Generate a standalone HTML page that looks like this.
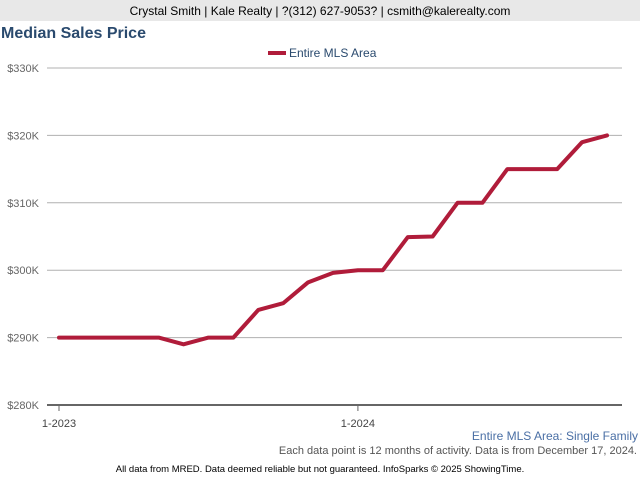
<!DOCTYPE html>
<html><head><meta charset="utf-8"><style>
body{margin:0;width:640px;height:480px;background:#fff;font-family:"Liberation Sans",sans-serif;overflow:hidden;position:relative}
.hdr{position:absolute;left:0;top:0;width:640px;height:21px;background:#e8e8e8;text-align:center;font-size:12px;line-height:22px;color:#000}
.title{position:absolute;left:1px;top:25px;font-size:16px;font-weight:bold;color:#2a4a6e}
.t{position:absolute;font-size:11px}
</style></head><body>
<div class="hdr">Crystal Smith | Kale Realty | ?(312) 627-9053? | csmith@kalerealty.com</div>
<div class="title">Median Sales Price</div>
<svg id="c" width="640" height="480" style="position:absolute;left:0;top:0"></svg>
<div class="t" style="right:2px;top:429px;font-size:12px;color:#4a6fa5">Entire MLS Area: Single Family</div>
<div class="t" style="right:3px;top:445px;color:#555">Each data point is 12 months of activity. Data is from December 17, 2024.</div>
<div class="t" style="left:0;width:640px;text-align:center;top:464px;font-size:9.5px;color:#000">All data from MRED. Data deemed reliable but not guaranteed. InfoSparks © 2025 ShowingTime.</div>
<script>
const values=[290,290,290,290,290,289,290,290,294.1,295.1,298.2,299.6,300,300,304.9,305,310,310,315,315,315,319,320];
const yTicks=[280,290,300,310,320,330];
const xLabels=[{i:0,t:"1-2023"},{i:12,t:"1-2024"}];
const NS="http://www.w3.org/2000/svg",svg=document.getElementById('c');
const x=i=>59+i*(548/22), y=v=>405-(v-280)*(337/50);
function mk(t,a){const e=document.createElementNS(NS,t);for(const k in a)e.setAttribute(k,a[k]);svg.appendChild(e);return e;}
yTicks.forEach(v=>{
 const l=mk('line',{x1:47,x2:622,y1:y(v),y2:y(v),stroke:v===280?'#666':'#b0b0b0','stroke-width':v===280?2:1});
 
 
 const t=mk('text',{x:39,y:y(v)+4,'text-anchor':'end','font-size':11,fill:'#666','font-family':'Liberation Sans'});
 t.textContent='$'+v+'K';
 
 
});
xLabels.forEach(d=>{
 const l=mk('line',{x1:x(d.i),x2:x(d.i),y1:405,y2:411,stroke:'#666'});
 
 
 const t=mk('text',{x:x(d.i),y:427,'text-anchor':'middle','font-size':11,fill:'#444','font-family':'Liberation Sans'});
 t.textContent=d.t;
 
 
});
const p=mk('polyline',{points:values.map((v,i)=>x(i)+','+y(v)).join(' '),fill:'none',stroke:'#b01c3a','stroke-width':4,'stroke-linejoin':'round','stroke-linecap':'round'});


const lg=mk('line',{x1:268,x2:286,y1:53,y2:53,stroke:'#b01c3a','stroke-width':4});


const lt=mk('text',{x:289,y:57,'font-size':12,fill:'#2a4a6e','font-family':'Liberation Sans'});
lt.textContent='Entire MLS Area';


</script>
</body></html>
